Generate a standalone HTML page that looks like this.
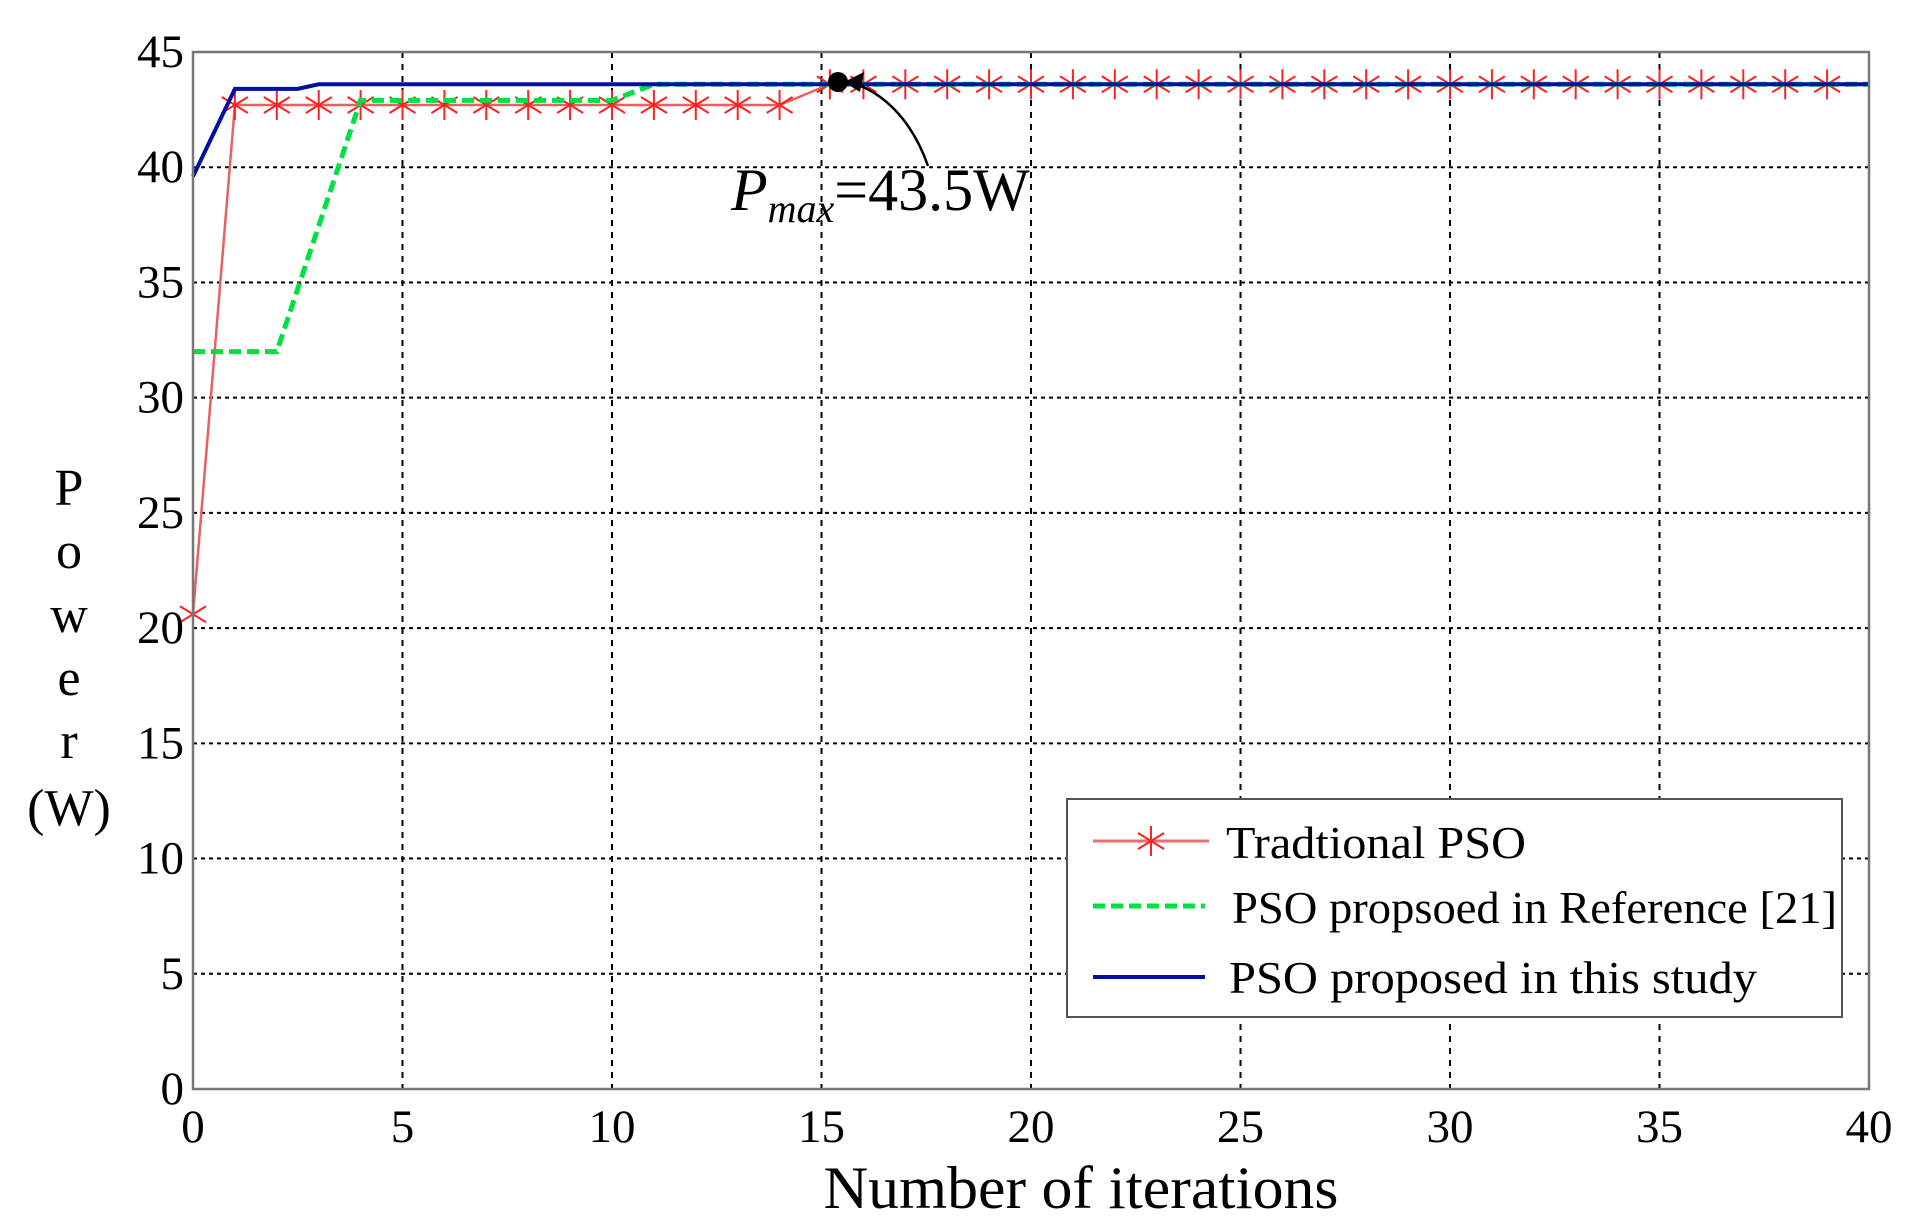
<!DOCTYPE html>
<html><head><meta charset="utf-8"><style>
html,body{margin:0;padding:0;background:#fff;}
svg{display:block;}
text{font-family:"Liberation Serif",serif;fill:#000;}
</style></head><body>
<svg id="chart" width="1923" height="1229" viewBox="0 0 1923 1229" xmlns="http://www.w3.org/2000/svg">
<g id="grid"></g>
<g id="series"></g>
<rect x="193" y="52" width="1676" height="1037" fill="none" stroke="#777" stroke-width="2.5"/>
<g id="ticks"></g>
<text x="1081" y="1208" font-size="60" text-anchor="middle" textLength="515" lengthAdjust="spacingAndGlyphs">Number of iterations</text>
<g font-size="52" text-anchor="middle">
<text x="69" y="505">P</text><text x="69" y="568">o</text><text x="69" y="632">w</text><text x="69" y="695">e</text><text x="69" y="758">r</text><text x="69" y="825">(W)</text>
</g>
<g>
<path d="M928,166 C912,120 882,90 848,82" fill="none" stroke="#000" stroke-width="2.5"/>
<polygon points="844,82 864,72 860,92" fill="#000"/>
<circle cx="838" cy="82" r="10" fill="#000"/>
<text x="731" y="210" font-size="60"><tspan font-style="italic">P</tspan><tspan font-style="italic" font-size="40" dy="12">max</tspan><tspan dy="-12">=43.5W</tspan></text>
</g>
<g>
<rect x="1067" y="799" width="775" height="218" fill="#fff" stroke="#555" stroke-width="2"/>
<g>
<line x1="1093" y1="841" x2="1209" y2="841" stroke="#e87070" stroke-width="3"/>
<g stroke="#ff2020" stroke-width="2"><line x1="1151" y1="826" x2="1151" y2="856"/><line x1="1138" y1="833" x2="1164" y2="849"/><line x1="1138" y1="849" x2="1164" y2="833"/></g>
<text x="1226" y="858" font-size="46" textLength="300" lengthAdjust="spacingAndGlyphs">Tradtional PSO</text></g>
<g>
<line x1="1093" y1="906" x2="1205" y2="906" stroke="#00e040" stroke-width="5" stroke-dasharray="12,6"/>
<text x="1232" y="923" font-size="46" textLength="605" lengthAdjust="spacingAndGlyphs">PSO propsoed in Reference [21]</text></g>
<g>
<line x1="1093" y1="977" x2="1205" y2="977" stroke="#0010a0" stroke-width="4"/>
<text x="1229" y="993" font-size="46" textLength="528" lengthAdjust="spacingAndGlyphs">PSO proposed in this study</text></g>
</g>
</svg>
<script>
const xTicks=[0,5,10,15,20,25,30,35,40];
const yTicks=[0,5,10,15,20,25,30,35,40,45];
const tradX=[0,1,2,3,4,5,6,7,8,9,10,11,12,13,14,15.2,16,17,18,19,20,21,22,23,24,25,26,27,28,29,30,31,32,33,34,35,36,37,38,39,40];
const tradY=[20.6,42.7,42.7,42.7,42.7,42.7,42.7,42.7,42.7,42.7,42.7,42.7,42.7,42.7,42.7,43.6,43.6,43.6,43.6,43.6,43.6,43.6,43.6,43.6,43.6,43.6,43.6,43.6,43.6,43.6,43.6,43.6,43.6,43.6,43.6,43.6,43.6,43.6,43.6,43.6,43.6];
const refX=[0,2,4,10,11,40];
const refY=[32,32,42.9,42.9,43.6,43.6];
const propX=[0,1,2.5,3,40];
const propY=[39.6,43.4,43.4,43.6,43.6];
const markerX=[0,1,2,3,4,5,6,7,8,9,10,11,12,13,14,15.2,16,17,18,19,20,21,22,23,24,25,26,27,28,29,30,31,32,33,34,35,36,37,38,39];
const markerY=[20.6,42.7,42.7,42.7,42.7,42.7,42.7,42.7,42.7,42.7,42.7,42.7,42.7,42.7,42.7,43.6,43.6,43.6,43.6,43.6,43.6,43.6,43.6,43.6,43.6,43.6,43.6,43.6,43.6,43.6,43.6,43.6,43.6,43.6,43.6,43.6,43.6,43.6,43.6,43.6];
const X0=193,X1=1869,Y0=1089,Y1=52;
function sx(v){return X0+(v-0)/40*(X1-X0);}
function sy(v){return Y0-(v-0)/45*(Y0-Y1);}
const NS="http://www.w3.org/2000/svg";
function mk(tag,attrs,parent){const e=document.createElementNS(NS,tag);for(const k in attrs)e.setAttribute(k,attrs[k]);parent.appendChild(e);return e;}
const grid=document.getElementById('grid'),ticks=document.getElementById('ticks'),ser=document.getElementById('series');
xTicks.forEach(t=>{
  if(t>0&&t<40){const l=mk('line',{x1:sx(t),x2:sx(t),y1:Y1,y2:Y0,stroke:'#000','stroke-width':2,'stroke-dasharray':'6,6'},grid);
  
  }
  const tx=mk('text',{x:sx(t),y:1142,'font-size':47,'text-anchor':'middle'},ticks);tx.textContent=t;
  
  
});
yTicks.forEach(t=>{
  if(t>0&&t<45){const l=mk('line',{x1:X0,x2:X1,y1:sy(t),y2:sy(t),stroke:'#000','stroke-width':2,'stroke-dasharray':'4,4'},grid);
  
  }
  const tx=mk('text',{x:184,y:sy(t)+15,'font-size':47,'text-anchor':'end'},ticks);tx.textContent=t;
  
  
});
function pts(xs,ys){return xs.map((x,i)=>sx(x)+','+sy(ys[i])).join(' ');}
const p1=mk('polyline',{points:pts(tradX,tradY),fill:'none',stroke:'#e86060','stroke-width':2.5},ser);


markerX.forEach((x,i)=>{
  const cx=sx(x),cy=sy(markerY[i]);
  const g=mk('g',{stroke:'#ff2020','stroke-width':2},ser);
  
  
  mk('line',{x1:cx,y1:cy-15,x2:cx,y2:cy+15},g);
  mk('line',{x1:cx-13,y1:cy-8,x2:cx+13,y2:cy+8},g);
  mk('line',{x1:cx-13,y1:cy+8,x2:cx+13,y2:cy-8},g);
});
const p2=mk('polyline',{points:pts(refX,refY),fill:'none',stroke:'#00e040','stroke-width':5,'stroke-dasharray':'12,6'},ser);


const p3=mk('polyline',{points:pts(propX,propY),fill:'none',stroke:'#0010a0','stroke-width':4},ser);


</script>
</body></html>
